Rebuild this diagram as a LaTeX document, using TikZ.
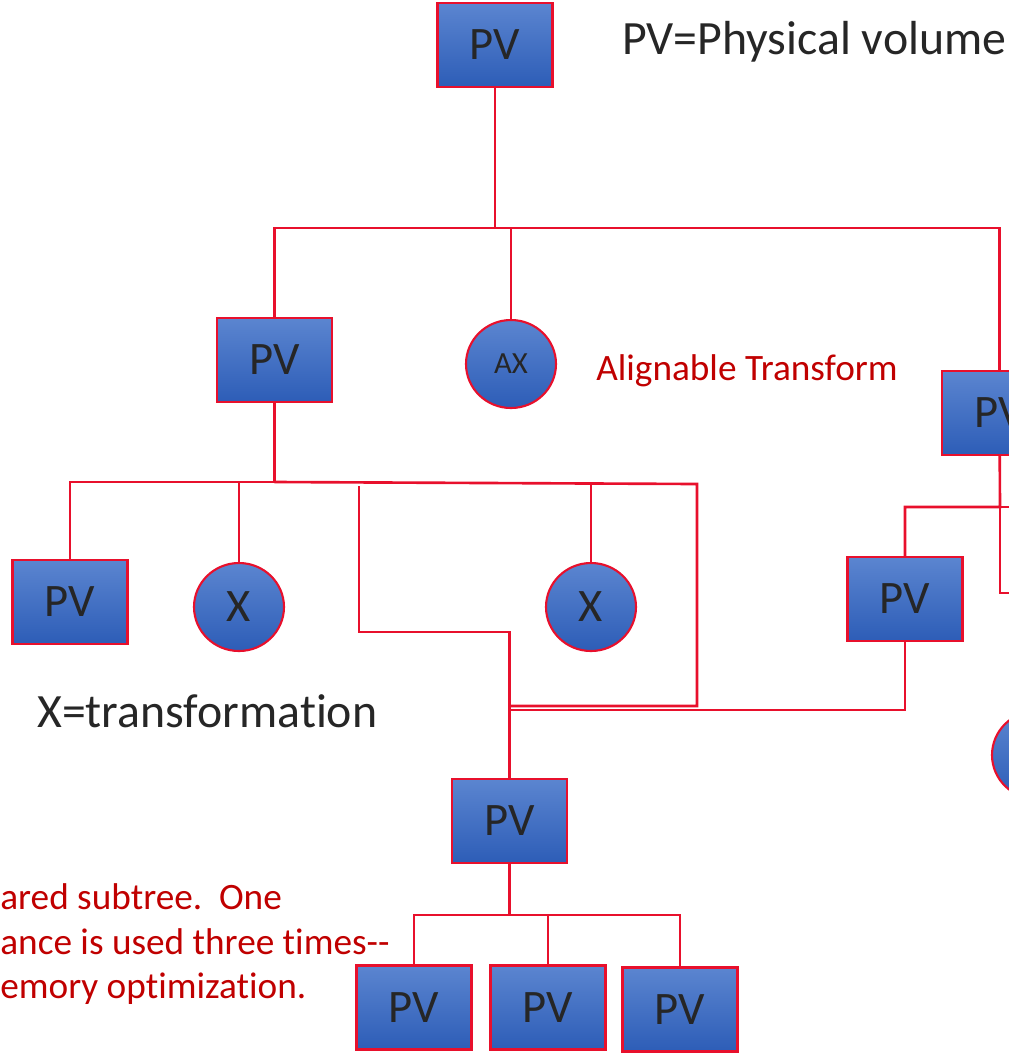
\documentclass[tikz,border=0pt]{standalone}
\usepackage{fontspec}
\setmainfont{Carlito}[Ligatures=NoCommon]
\usepackage{tikz}
\usetikzlibrary{positioning,shapes.geometric}

\definecolor{linkred}{HTML}{E8102C}
\definecolor{notered}{HTML}{C00000}
\definecolor{pvtop}{HTML}{5B85D0}
\definecolor{pvbot}{HTML}{2D5DB7}
\definecolor{textgray}{HTML}{262626}

\tikzset{
  pvbox/.style={draw=linkred, line width=1.2pt, top color=pvtop, bottom color=pvbot,
    minimum width=2.3cm, minimum height=1.68cm, inner sep=0pt,
    text=textgray, font=\fontsize{26.5}{30}\selectfont},
  xform/.style={ellipse, draw=linkred, line width=1.2pt, top color=pvtop, bottom color=pvbot,
    minimum width=1.8cm, minimum height=1.76cm, inner sep=0pt,
    text=textgray, font=\fontsize{26.5}{30}\selectfont},
  link/.style={draw=linkred, line width=1.5pt},
  legend/.style={anchor=base west, inner sep=0pt, text=textgray, font=\fontsize{27.2}{30}\selectfont},
  note/.style={anchor=base west, inner sep=0pt, text=notered, font=\fontsize{21.2}{24}\selectfont},
}

\begin{document}
\begin{tikzpicture}
  \useasboundingbox (0,0) rectangle (20.18,-21.06);
  \clip (0,0) rectangle (20.18,-21.06);

  % Top volume
  \node[pvbox] (pv0) at (9.9,-0.9) {PV};
  \node[legend] (pvkey) at (12.44,-1.08) {PV=Physical volume};

  % Second level
  \node[pvbox] (pv1) at (5.49,-7.2) {PV};
  \node[xform, font=\fontsize{17.5}{20}\selectfont] (ax) at (10.22,-7.28) {AX};
  \node[note] (axkey) at (11.92,-7.6) {Alignable Transform};
  \node[pvbox] (pv2) at (19.99,-8.26) {PV};

  % Third level
  \node[pvbox] (pv3) at (1.4,-12.04) {PV};
  \node[xform] (x1) at (4.78,-12.14) {X};
  \node[xform] (x2) at (11.82,-12.14) {X};
  \node[pvbox] (pv4) at (18.1,-11.98) {PV};
  \node[xform] (x3) at (20.74,-15.1) {};
  \node[legend] (xkey) at (0.74,-14.54) {X=transformation};

  % Shared subtree
  \node[pvbox] (pvs) at (10.19,-16.42) {PV};
  \node[pvbox] (pv5) at (8.28,-20.15) {PV};
  \node[pvbox] (pv6) at (10.96,-20.15) {PV};
  \node[pvbox] (pv7) at (13.6,-20.19) {PV};

  \node[note] (note1) at (0,-18.18) {ared subtree.\ \ One};
  \node[note] (note2) at (0,-19.08) {ance is used three times-{}-};
  \node[note] (note3) at (0,-19.96) {emory optimization.};

  % Junctions
  \coordinate (j0) at (9.9,-4.56);
  \coordinate (j1) at (5.49,-9.64);
  \coordinate (j1r) at (13.94,-9.68);
  \coordinate (b0) at (7.18,-9.72);
  \coordinate (b1) at (7.18,-12.64);
  \coordinate (k1) at (10.19,-14.12);
  \coordinate (k2) at (10.19,-14.2);
  \coordinate (j2) at (20,-10.14);
  \coordinate (e1) at (20.6,-10.14);
  \coordinate (e2) at (20.6,-11.86);
  \coordinate (j3) at (10.19,-18.3);

  % Connectors
  \draw[link] (pv0) -- (j0) -| (pv1);
  \draw[link] (j0) -| (pv2);
  \draw[link] (ax) |- (j0);

  \draw[link] (pv1) -- (j1) -| (pv3);
  \draw[link] (j1) -| (x1);
  \draw[link] (j1) -- (j1r) |- (k1);
  \draw[link] (x2) |- (j1r);
  \draw[link] (b0) -- (b1) -| (pvs);

  \draw[link] (pv2) -- (j2) -| (pv4);
  \draw[link] (j2) -- (e1);
  \draw[link] (j2) |- (e2);
  \draw[link] (pv4) |- (k2);

  \draw[link] (pvs) -- (j3) -| (pv5);
  \draw[link] (j3) -| (pv6);
  \draw[link] (j3) -| (pv7);
\end{tikzpicture}
\end{document}
